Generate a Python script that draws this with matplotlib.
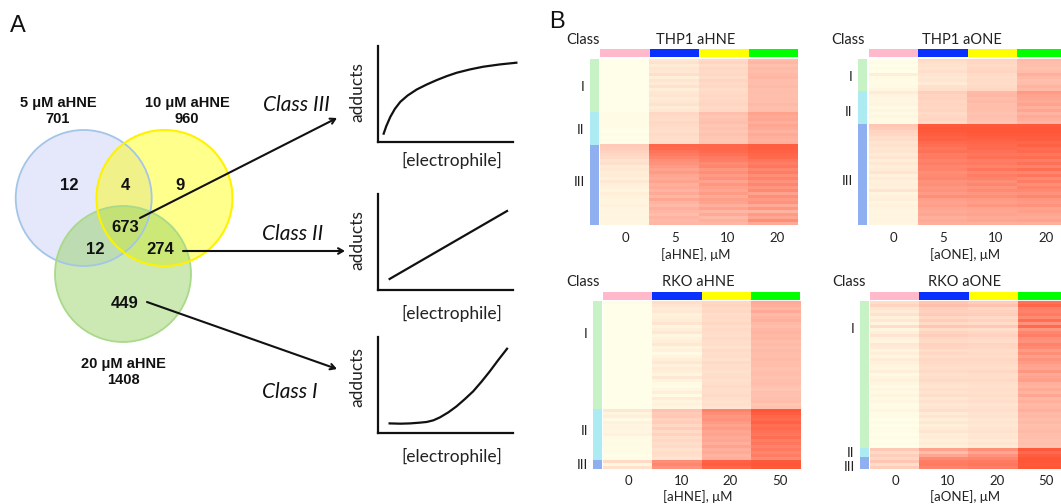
import numpy as np
import matplotlib
matplotlib.use("Agg")
import matplotlib.pyplot as plt
from matplotlib.colors import LinearSegmentedColormap
from matplotlib.patches import Circle

W, H = 1061, 504

# ---- data: band intensity (0-100), top row to bottom row
thp1_hne_0 = [2,3,2,3,2,3,2,3,2,3,2,2,3,2,3,2,3,2, 5,4,5,4,5,4,3,4,3,4,3,
              38,36,34,30,28,20,24,16,18,14,16,12,18,14,12,10,14,12,10,10,12,8,10,8,10,8,8]
thp1_hne_5 = [18,22,16,20,18,24,14,20,16,22,14,18,20,16,18,22,16,18, 30,28,26,30,28,26,24,28,26,24,26,
              92,90,85,82,78,72,70,66,62,66,60,58,62,56,58,54,58,52,60,54,50,56,52,48,54,50,52]
thp1_hne_10 = [28,32,26,30,28,30,26,32,28,30,26,28,30,28,30,32,28,30, 46,42,44,46,42,44,40,44,42,40,42,
               92,92,90,86,82,80,74,76,68,72,66,70,62,68,64,60,66,58,64,62,56,62,52,58,50,56,52]
thp1_hne_20 = [48,52,46,50,48,50,52,46,48,50,46,48,46,48,46,50,46,48, 62,58,60,56,60,58,54,58,56,54,56,
               96,96,94,92,90,84,80,84,76,80,72,78,70,76,68,74,62,72,66,70,58,68,54,66,60,72,58]

thp1_one_0 = [3,4,3,5,3,14,6,4,5,6,8, 16,10,8,8,10,6,8,6,8,6,6,
              42,38,32,30,24,26,20,22,18,20,16,20,14,18,14,16,20,12,16,12,14,12,20,10,12,14,8,12,10,8,10,8,10,8]
thp1_one_5 = [28,24,22,20,24,20,18,20,16,22,24, 36,32,34,30,32,30,32,28,30,32,28,
              98,100,98,96,94,95,90,88,84,86,80,82,78,80,76,78,72,74,76,70,72,68,70,66,72,64,62,64,60,58,60,56,58,56]
thp1_one_10 = [32,30,28,30,32,28,26,28,26,28,30, 50,52,48,50,46,48,46,44,46,44,42,
               98,100,100,98,96,94,92,90,90,86,84,86,80,82,78,84,76,80,78,72,76,70,74,68,72,66,64,68,62,60,62,58,60,56]
thp1_one_20 = [50,48,46,44,48,56,50,46,48,54,50, 66,62,60,58,62,56,60,54,58,56,52,
               98,100,100,98,96,96,92,94,88,90,84,88,80,86,78,88,76,84,74,80,72,78,74,70,76,68,66,70,62,64,60,58,62,56]

rko_hne_0 = [4,3,2,3,2,3,2,2,3,2,2,3,2,2,2,3,2,2,3,2,2,2,3,2,2,2,2,2,2,2,3,2,2,2,2,2,
             18,10,14,6,12,8,10,8,12,6,4,6,4,5,4,3,4, 28,8,22]
rko_hne_10 = [24,20,16,18,12,14,16,20,10,14,18,8,12,14,18,10,12,6,10,14,18,12,16,14,8,18,10,6,4,8,14,6,16,10,12,8,
              44,38,40,34,36,30,36,28,34,26,30,24,28,22,26,24,20, 72,76,70]
rko_hne_20 = [30,32,28,30,26,28,26,30,24,28,26,24,28,24,26,22,28,24,26,22,28,24,26,22,24,26,22,24,28,24,26,28,24,22,24,20,
              78,72,68,70,66,62,66,60,62,58,60,56,62,56,58,54,56, 94,96,92]
rko_hne_50 = [58,56,52,58,50,54,56,50,48,52,54,50,52,48,50,46,50,48,46,50,46,48,44,46,48,44,46,48,44,42,46,44,46,48,42,44,
              100,96,92,90,94,88,90,86,84,88,80,84,78,82,76,80,74, 98,100,98]

rko_one_0 = [26,32,20,16,22,12,18,10,26,8,14,20,12,10,18,16,10,14,8,16,12,10,8,14,6,10,12,8,6,8,6,10,6,8,4,6,8,4,6,3,5,3,4,5,3,4,3,4,3,
             40,28,36, 30,42,26,36]
rko_one_10 = [42,46,36,34,38,30,36,28,42,26,32,36,30,28,34,32,26,30,24,30,28,26,24,28,22,26,28,22,20,24,20,26,18,22,18,20,24,16,20,14,18,14,16,20,14,16,12,16,12,
              62,48,60, 74,80,82,78]
rko_one_20 = [36,44,30,34,36,28,34,26,40,24,30,34,28,26,32,30,26,28,26,30,28,26,24,30,24,26,28,24,22,24,22,26,22,24,20,22,24,20,22,18,20,18,20,22,18,20,16,20,16,
              72,60,70, 76,82,84,80]
rko_one_50 = [86,92,80,78,82,74,88,70,90,68,76,80,72,70,78,74,66,72,64,70,66,62,60,68,58,62,64,56,54,58,54,60,52,56,50,52,56,50,52,48,50,46,48,50,46,48,44,46,44,
              98,90,96, 100,100,98,100]

thp1_sizes = [18, 11, 27]
thp1_one_sizes = [11, 11, 34]
rko_hne_sizes = [36, 17, 3]
rko_one_sizes = [49, 3, 4]
class_names = ["I", "II", "III"]

doses_thp1 = ["0", "5", "10", "20"]
doses_rko = ["0", "10", "20", "50"]

venn_regions = ["12", "4", "9", "673", "12", "274", "449"]
venn_titles = ["5 \u03bcM aHNE\n701", "10 \u03bcM aHNE\n960", "20 \u03bcM aHNE\n1408"]

sat_x = [.042, .061, .091, .125, .165, .219, .287, .361, .435, .509, .582, .681, .779, .902, 1.025]
sat_y = [.087, .164, .261, .345, .418, .484, .547, .599, .645, .686, .721, .756, .784, .808, .826]
lin_x = [0.086, 0.956]
lin_y = [0.115, 0.823]
exp_x = [.086, .165, .238, .312, .361, .410, .459, .521, .582, .644, .705, .767, .828, .889, .956]
exp_y = [.10, .097, .10, .108, .115, .132, .163, .215, .278, .354, .434, .535, .642, .757, .878]

# ---- styles
LAT = "Lato"
ARI = "Liberation Sans"
cmap = LinearSegmentedColormap.from_list("ivory_red", ["#FFFEE8", "#FFB8A6", "#FF5638"])
class_colors = ["#C6F2C6", "#ABEBF1", "#8FAFF0"]
dose_colors = ["#FFB9CB", "#0A30FF", "#FFFF00", "#00FF00"]

fig = plt.figure(figsize=(W / 100, H / 100), dpi=100, facecolor="white")


def px_axes(x0, y0, x1, y1, **kw):
    return fig.add_axes([x0 / W, 1 - y1 / H, (x1 - x0) / W, (y1 - y0) / H], **kw)


# overlay in pixel units
ov = px_axes(0, 0, W, H)
ov.set_xlim(0, W)
ov.set_ylim(H, 0)
ov.axis("off")

ov.text(18, 26, "A", fontsize=17, family=ARI, ha="center", va="center", color="#111111")
ov.text(557, 22, "B", fontsize=17, family=ARI, ha="center", va="center", color="#111111")

# Venn
ov.add_patch(Circle((83.7, 198), 68, fc="#E5E7FA", ec="none", zorder=1))
ov.add_patch(Circle((164.5, 198), 68, fc=(1, 1, 0, 0.45), ec="none", zorder=2))
ov.add_patch(Circle((123, 274), 68, fc=(0.58, 0.82, 0.38, 0.47), ec="none", zorder=3))
ov.add_patch(Circle((83.7, 198), 68, fc="none", ec="#A3C6E8", lw=1.3, zorder=4))
ov.add_patch(Circle((123, 274), 68, fc="none", ec="#A9D98A", lw=1.3, zorder=4))
ov.add_patch(Circle((164.5, 198), 68, fc="none", ec="#FFF200", lw=1.5, zorder=5))

region_xy = [(69, 185), (125, 185), (180, 185), (125, 227), (95, 249), (160, 249), (125, 303)]
for (x, y), s in zip(region_xy, venn_regions):
    ov.text(x, y, s, fontsize=12, fontweight="bold", family=ARI, ha="center", va="center",
            color="#111111", zorder=7)
title_xy = [(58, 111), (187, 111), (123, 372)]
for (x, y), s in zip(title_xy, venn_titles):
    ov.text(x, y, s, fontsize=10.5, fontweight="bold", family=ARI, ha="center", va="center",
            linespacing=1.2, color="#111111", zorder=7)

# arrows
for start, end in [((140, 218), (337, 118)), ((183, 251), (345, 251)), ((147, 302), (337, 369))]:
    ov.annotate("", xy=end, xytext=start, zorder=8,
                arrowprops=dict(arrowstyle="->,head_length=0.35,head_width=0.2", lw=1.5, color="#111111",
                                shrinkA=0, shrinkB=0))

for (x, y), s in zip([(296, 105), (293, 234), (290, 392)], ["Class III", "Class II", "Class I"]):
    ov.text(x, y, s, fontsize=15, style="italic", family=LAT, ha="center", va="center", color="#111111")

# response sketches
sketches = [((378, 46, 513, 142), sat_x, sat_y, 92, 160),
            ((378, 194, 513, 290), lin_x, lin_y, 240, 313),
            ((378, 337, 513, 433), exp_x, exp_y, 377, 456)]
for (x0, y0, x1, y1), xs, ys, ylab, xlab in sketches:
    a = px_axes(x0, y0, x1, y1)
    a.patch.set_alpha(0)
    a.set_xlim(0, 1)
    a.set_ylim(0, 1)
    a.plot(xs, ys, color="#111111", lw=1.6, clip_on=False, solid_joinstyle="round")
    a.set_xticks([])
    a.set_yticks([])
    for side in ("top", "right"):
        a.spines[side].set_visible(False)
    for side in ("left", "bottom"):
        a.spines[side].set_linewidth(1.6)
        a.spines[side].set_color("#111111")
    ov.text(357, ylab, "adducts", fontsize=12.5, family=LAT, rotation=90, ha="center", va="center", color="#222222")
    ov.text(452, xlab, "[electrophile]", fontsize=12.5, family=LAT, ha="center", va="center", color="#222222")

# heat maps
panels = [
    dict(title="THP1 aHNE", xlabel="[aHNE], \u03bcM", doses=doses_thp1, sizes=thp1_sizes,
         cols=[thp1_hne_0, thp1_hne_5, thp1_hne_10, thp1_hne_20],
         box=(600, 58.7, 798, 225), side=(590, 599), ty=49, tb=57, cx=583, tx=696, lx=696, ly=255, head=40, tick_y=238,
         ticks=[625, 675, 728, 777], cl=[(583, 87), (581, 130), (579, 182)]),
    dict(title="THP1 aONE", xlabel="[aONE], \u03bcM", doses=doses_thp1, sizes=thp1_one_sizes,
         cols=[thp1_one_0, thp1_one_5, thp1_one_10, thp1_one_20],
         box=(869, 58.7, 1066, 225), side=(858, 867), ty=49, tb=57, cx=848, tx=962, lx=965, ly=255, head=40, tick_y=238,
         ticks=[893, 943, 996, 1046], cl=[(851, 77), (849, 112), (847, 181)]),
    dict(title="RKO aHNE", xlabel="[aHNE], \u03bcM", doses=doses_rko, sizes=rko_hne_sizes,
         cols=[rko_hne_0, rko_hne_10, rko_hne_20, rko_hne_50],
         box=(603, 301, 800, 469), side=(593, 602), ty=292, tb=300, cx=583, tx=698, lx=698, ly=497, head=282, tick_y=481,
         ticks=[628, 682, 730, 780], cl=[(586, 334), (584, 431), (582, 465)]),
    dict(title="RKO aONE", xlabel="[aONE], \u03bcM", doses=doses_rko, sizes=rko_one_sizes,
         cols=[rko_one_0, rko_one_10, rko_one_20, rko_one_50],
         box=(870, 301, 1067, 469), side=(860, 869), ty=292, tb=300, cx=849, tx=965, lx=965, ly=497, head=282, tick_y=481,
         ticks=[895, 948, 997, 1046], cl=[(853, 329), (851, 453), (849, 467)]),
]

for p in panels:
    x0, y0, x1, y1 = p["box"]
    hm = px_axes(x0, y0, x1, y1)
    data = np.array(p["cols"], dtype=float).T
    hm.imshow(data, cmap=cmap, vmin=3, vmax=100, aspect="auto", interpolation="nearest")
    hm.axis("off")

    top = px_axes(x0, p["ty"], x1, p["tb"])
    top.bar(range(4), [1, 1, 1, 1], width=1, align="edge", color=dose_colors, edgecolor="none")
    top.set_xlim(0, 4)
    top.set_ylim(0, 1)
    top.axis("off")

    side = px_axes(p["side"][0], y0, p["side"][1], y1)
    starts = np.concatenate([[0], np.cumsum(p["sizes"])[:-1]])
    side.barh(starts, [1, 1, 1], height=p["sizes"], align="edge", color=class_colors, edgecolor="none")
    side.set_xlim(0, 1)
    side.set_ylim(sum(p["sizes"]), 0)
    side.axis("off")

    ov.text(p["cx"], p["head"], "Class", fontsize=10.5, family=LAT, ha="center", va="center", color="#222222")
    ov.text(p["tx"], p["head"], p["title"], fontsize=10.5, family=LAT, ha="center", va="center", color="#222222")
    for tx, d in zip(p["ticks"], p["doses"]):
        ov.text(tx, p["tick_y"], d, fontsize=9.5, family=LAT, ha="center", va="center", color="#222222")
    ov.text(p["lx"], p["ly"], p["xlabel"], fontsize=9.5, family=LAT, ha="center", va="center", color="#222222")
    for (x, y), c in zip(p["cl"], class_names):
        ov.text(x, y, c, fontsize=10, family=LAT, ha="center", va="center", color="#222222")

fig.savefig("out.png", dpi=100, facecolor="white")
